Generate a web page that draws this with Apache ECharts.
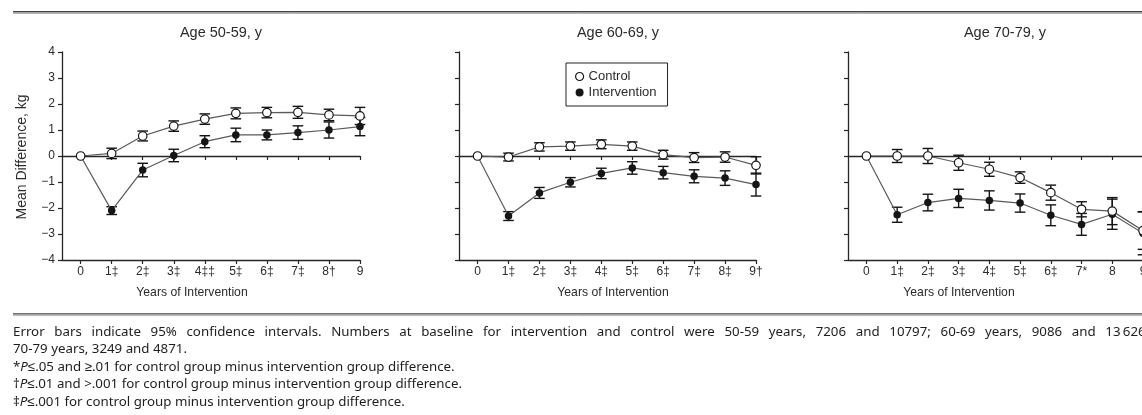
<!DOCTYPE html>
<html>
<head>
<meta charset="utf-8">
<script src="https://cdn.jsdelivr.net/npm/echarts@6/dist/echarts.min.js"></script>
<style>
  html, body { margin: 0; padding: 0; background: #fff; }
  #chart { width: 1142px; height: 415px; }
</style>
</head>
<body>
<div id="chart"></div>
<script>
// Years since randomisation and the x tick labels (with significance marks)
const years = [0, 1, 2, 3, 4, 5, 6, 7, 8, 9];
const tickLabels50 = ['0', '1\u2021', '2\u2021', '3\u2021', '4\u2021\u2021', '5\u2021', '6\u2021', '7\u2021', '8\u2020', '9'];
const tickLabels60 = ['0', '1\u2021', '2\u2021', '3\u2021', '4\u2021', '5\u2021', '6\u2021', '7\u2021', '8\u2021', '9\u2020'];
const tickLabels70 = ['0', '1\u2021', '2\u2021', '3\u2021', '4\u2021', '5\u2021', '6\u2021', '7*', '8', '9'];

// Mean weight difference from baseline (kg) and 95% CI half-widths
const control50   = [0, 0.10, 0.77, 1.15, 1.42, 1.64, 1.67, 1.68, 1.58, 1.54];
const control50Ci = [0, 0.20, 0.19, 0.20, 0.20, 0.21, 0.20, 0.23, 0.22, 0.33];
const interv50    = [0, -2.10, -0.54, 0.02, 0.55, 0.81, 0.81, 0.90, 1.00, 1.13];
const interv50Ci  = [0, 0.15, 0.26, 0.24, 0.23, 0.26, 0.19, 0.26, 0.31, 0.35];

const control60   = [0, -0.04, 0.35, 0.38, 0.45, 0.38, 0.05, -0.06, -0.04, -0.36];
const control60Ci = [0, 0.15, 0.16, 0.16, 0.17, 0.16, 0.17, 0.19, 0.20, 0.33];
const interv60    = [0, -2.31, -1.42, -1.01, -0.67, -0.46, -0.64, -0.78, -0.85, -1.10];
const interv60Ci  = [0, 0.17, 0.21, 0.18, 0.20, 0.24, 0.24, 0.25, 0.28, 0.44];

const control70   = [0, 0.00, 0.00, -0.26, -0.51, -0.83, -1.41, -2.05, -2.12, -2.87];
const control70Ci = [0, 0.25, 0.29, 0.29, 0.27, 0.22, 0.29, 0.29, 0.52, 0.72];
const interv70    = [0, -2.26, -1.79, -1.63, -1.71, -1.81, -2.28, -2.63, -2.24, -2.97];
const interv70Ci  = [0, 0.29, 0.32, 0.35, 0.37, 0.35, 0.40, 0.42, 0.58, 0.83];

const panelTitles = ['Age 50-59, y', 'Age 60-69, y', 'Age 70-79, y'];
const xAxisName = 'Years of Intervention';
const yAxisName = 'Mean Difference, kg';

const panels = [
  { title: panelTitles[0], ticks: tickLabels50, control: control50, controlCi: control50Ci, interv: interv50, intervCi: interv50Ci },
  { title: panelTitles[1], ticks: tickLabels60, control: control60, controlCi: control60Ci, interv: interv60, intervCi: interv60Ci },
  { title: panelTitles[2], ticks: tickLabels70, control: control70, controlCi: control70Ci, interv: interv70, intervCi: interv70Ci }
];

// Layout of the three panels
const boxes = [
  { left: 62,  width: 298, titleX: 221,  nameX: 192 },
  { left: 459, width: 297, titleX: 618,  nameX: 613 },
  { left: 848, width: 295, titleX: 1005, nameX: 959 }
];
const gridTop = 52, gridHeight = 208;

const chartFont = '"Liberation Sans", Arial, sans-serif';
const noteFont = '"Noto Sans", sans-serif';
const ink = '#2b2b2b';
const axisStyle = { color: '#262626', width: 1.3 };

function fmtY(v) { return v < 0 ? '\u2212' + Math.abs(v) : String(v); }

function renderErrorBar(params, api) {
  const x = api.value(0);
  const lo = api.coord([x, api.value(1)]);
  const hi = api.coord([x, api.value(2)]);
  const half = 5.3;
  const mk = () => ({ stroke: '#141414', lineWidth: 1.4 });
  return {
    type: 'group',
    children: [
      { type: 'line', shape: { x1: lo[0], y1: lo[1], x2: hi[0], y2: hi[1] }, style: mk() },
      { type: 'line', shape: { x1: lo[0] - half, y1: lo[1], x2: lo[0] + half, y2: lo[1] }, style: mk() },
      { type: 'line', shape: { x1: hi[0] - half, y1: hi[1], x2: hi[0] + half, y2: hi[1] }, style: mk() }
    ]
  };
}

const grid = [], xAxis = [], yAxis = [], series = [];

panels.forEach((p, i) => {
  const b = boxes[i];
  grid.push({ left: b.left, top: gridTop, width: b.width, height: gridHeight, containLabel: false, outerBoundsMode: 'none' });

  // bottom axis with the year labels
  xAxis.push({
    gridIndex: i, type: 'value', min: -0.6, max: 9, position: 'bottom',
    axisLine: { show: true, onZero: false, lineStyle: axisStyle },
    axisTick: { show: true, length: 4, customValues: years, lineStyle: { color: '#262626', width: 1.2 } },
    axisLabel: {
      show: true, customValues: years, margin: 6,
      formatter: v => p.ticks[years.indexOf(v)],
      fontSize: 12, color: ink, fontFamily: chartFont
    },
    splitLine: { show: false }
  });
  // reference line at zero difference, ticked like an axis
  xAxis.push({
    gridIndex: i, type: 'value', min: -0.6, max: 9, position: 'bottom',
    axisLine: { show: true, onZero: true, onZeroAxisIndex: i, lineStyle: axisStyle },
    axisTick: { show: true, length: 4, customValues: years, lineStyle: { color: '#262626', width: 1.2 } },
    axisLabel: { show: false },
    splitLine: { show: false }
  });
  yAxis.push({
    gridIndex: i, type: 'value', min: -4, max: 4, interval: 1,
    axisLine: { show: true, onZero: false, lineStyle: axisStyle },
    axisTick: { show: true, length: 4, lineStyle: { color: '#262626', width: 1.2 } },
    axisLabel: { show: i === 0, margin: 7, formatter: fmtY, fontSize: 12, color: ink, fontFamily: chartFont },
    splitLine: { show: false }
  });

  const ciData = (vals, ci) => years
    .map((y, k) => [y, vals[k] - ci[k], vals[k] + ci[k]])
    .filter((d, k) => ci[k] > 0);

  series.push({
    type: 'custom', name: 'Control 95% CI', xAxisIndex: 2 * i, yAxisIndex: i,
    renderItem: renderErrorBar, data: ciData(p.control, p.controlCi), z: 1, silent: true
  });
  series.push({
    type: 'custom', name: 'Intervention 95% CI', xAxisIndex: 2 * i, yAxisIndex: i,
    renderItem: renderErrorBar, data: ciData(p.interv, p.intervCi), z: 1, silent: true
  });
  series.push({
    type: 'line', name: 'Intervention', xAxisIndex: 2 * i, yAxisIndex: i,
    data: years.map((y, k) => [y, p.interv[k]]),
    symbol: 'circle', symbolSize: 7.5, showSymbol: true,
    itemStyle: { color: '#151515', borderWidth: 0 },
    lineStyle: { color: '#5a5a5a', width: 1.2 },
    z: 3, silent: true
  });
  series.push({
    type: 'line', name: 'Control', xAxisIndex: 2 * i, yAxisIndex: i,
    data: years.map((y, k) => [y, p.control[k]]),
    symbol: 'circle', symbolSize: 8.5, showSymbol: true,
    itemStyle: { color: '#ffffff', borderColor: '#151515', borderWidth: 1.2 },
    lineStyle: { color: '#5a5a5a', width: 1.2 },
    z: 4, silent: true
  });
});

// Footnotes
const noteSize = 13.3;
const noteFontStr = noteSize + 'px ' + noteFont;
const measureCtx = document.createElement('canvas').getContext('2d');
measureCtx.font = noteFontStr;
const tw = s => measureCtx.measureText(s).width;

const note1 = 'Error bars indicate 95% confidence intervals. Numbers at baseline for intervention and control were 50-59 years, 7206 and 10797; 60-69 years, 9086 and 13\u2009626;';
const note2 = '70-79 years, 3249 and 4871.';
const note3 = '*P\u2264.05 and \u2265.01 for control group minus intervention group difference.';
const note4 = '\u2020P\u2264.01 and >.001 for control group minus intervention group difference.';
const note5 = '\u2021P\u2264.001 for control group minus intervention group difference.';
const notes = [note1, note2, note3, note4, note5];

const noteLeft = 13;
const noteY = [332, 349.5, 367, 384.5, 402];

// Splits a line into words. With `endX` the inter-word space is widened so the
// line is set justified up to `endX` (measured to `measureTo`); otherwise a
// normal space is used. A leading footnote mark is followed by an italic P.
function setLine(text, endX, measureTo) {
  const words = text.split(' ');
  let gap = tw(' ');
  if (endX != null) {
    let natural = 0;
    words.forEach(w => { natural += tw(w); });
    if (measureTo) natural = natural - tw(words[words.length - 1]) + tw(measureTo);
    gap = Math.max(gap, (endX - noteLeft - natural) / (words.length - 1));
  }
  const rich = {
    n: { fontSize: noteSize, fontFamily: noteFont, fill: '#1e1e1e' },
    i: { fontSize: noteSize, fontFamily: noteFont, fontStyle: 'italic', fill: '#1e1e1e' },
    sp: { fontSize: noteSize, fontFamily: noteFont, width: gap }
  };
  const tokens = words.map(w => {
    const m = /^([*\u2020\u2021])P(.*)$/.exec(w);
    if (m) return '{n|' + m[1] + '}{i|P}' + (m[2] ? '{n|' + m[2] + '}' : '');
    return '{n|' + w + '}';
  });
  return { text: tokens.join('{sp| }'), rich: rich };
}

function textEl(x, y, text, size, extra) {
  return Object.assign({
    type: 'text', x: x, y: y, silent: true,
    style: {
      text: text, fontSize: size, fontFamily: chartFont, fill: ink,
      align: 'center', verticalAlign: 'middle', textAlign: 'center', textVerticalAlign: 'middle'
    }
  }, extra || {});
}

const graphic = [
  // rules above and below the figure
  { type: 'line', silent: true, shape: { x1: 13, y1: 11.8, x2: 1142, y2: 11.8 }, style: { stroke: '#444', lineWidth: 1.4 } },
  { type: 'line', silent: true, shape: { x1: 13, y1: 13.5, x2: 1142, y2: 13.5 }, style: { stroke: '#b5b5b5', lineWidth: 1 } },
  { type: 'line', silent: true, shape: { x1: 13, y1: 313.9, x2: 1142, y2: 313.9 }, style: { stroke: '#444', lineWidth: 1.4 } },
  { type: 'line', silent: true, shape: { x1: 13, y1: 315.6, x2: 1142, y2: 315.6 }, style: { stroke: '#b5b5b5', lineWidth: 1 } },
  textEl(22, 157, yAxisName, 14, { rotation: Math.PI / 2 })
];
panels.forEach((p, i) => {
  graphic.push(textEl(boxes[i].titleX, 33, p.title, 14.5));
  graphic.push(textEl(boxes[i].nameX, 293, xAxisName, 12.2));
});
notes.forEach((t, k) => {
  // the first line of the paragraph is justified and runs past the page edge
  const line = k === 0 ? setLine(t, 1138, '13\u200962') : setLine(t, null);
  graphic.push({
    type: 'text', x: noteLeft, y: noteY[k], silent: true,
    style: {
      text: line.text, rich: line.rich, fontSize: noteSize, fontFamily: noteFont, fill: '#1e1e1e',
      align: 'left', verticalAlign: 'middle', textAlign: 'left', textVerticalAlign: 'middle'
    }
  });
});

const option = {
  animation: false,
  backgroundColor: '#ffffff',
  textStyle: { fontFamily: chartFont },
  grid: grid,
  xAxis: xAxis,
  yAxis: yAxis,
  legend: {
    orient: 'vertical', left: 566, top: 63,
    padding: [7, 11, 7, 9], itemGap: 3, itemWidth: 8, itemHeight: 8,
    borderColor: '#222', borderWidth: 1, selectedMode: false,
    textStyle: { fontSize: 13, color: ink, fontFamily: chartFont },
    data: [
      { name: 'Control', icon: 'circle', itemStyle: { color: '#ffffff', borderColor: '#151515', borderWidth: 1.2 } },
      { name: 'Intervention', icon: 'circle', itemStyle: { color: '#151515', borderWidth: 0 } }
    ]
  },
  series: series,
  graphic: graphic
};

const chart = echarts.init(document.getElementById('chart'), null, { renderer: 'canvas' });
chart.setOption(option);
</script>
</body>
</html>
